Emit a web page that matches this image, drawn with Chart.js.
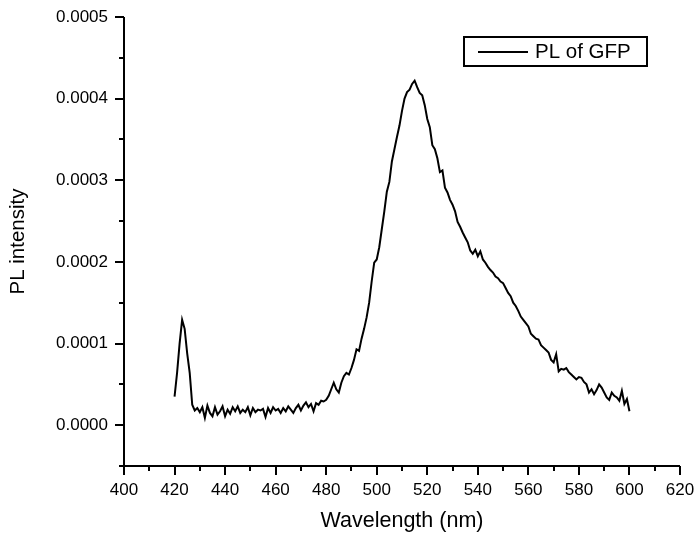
<!DOCTYPE html>
<html>
<head>
<meta charset="utf-8">
<script src="https://cdn.jsdelivr.net/npm/chart.js@4.4.1/dist/chart.umd.min.js"></script>
<style>
html,body{margin:0;padding:0;background:#fff;}
#wrap{width:698px;height:537px;position:relative;}
</style>
</head>
<body>
<div id="wrap"><canvas id="c" width="698" height="537"></canvas></div>
<script>
// ---- data ----
const seriesLabel = 'PL of GFP';
const xTitle = 'Wavelength (nm)';
const yTitle = 'PL intensity';
const START_NM = 420;   // first wavelength sample
const STEP_NM = 1;      // sampling step in nm
const UNIT = 1e-5;      // intensity values below are in units of 1e-5
const intensityE5 = [
  3.5, 6.4, 10.0, 12.9, 11.8, 8.8, 6.4, 2.5, 1.8, 2.1,        // 420-429
  1.6, 2.2, 0.9, 2.4, 1.5, 1.1, 2.2, 1.3, 1.7, 2.3,          // 430-439
  1.1, 1.9, 1.4, 2.2, 1.7, 2.3, 1.5, 1.9, 1.6, 2.2,          // 440-449
  1.2, 2.1, 1.6, 1.9, 1.8, 2.0, 1.0, 2.1, 1.5, 2.2,          // 450-459
  1.8, 2.0, 1.5, 2.1, 1.7, 2.3, 1.9, 1.5, 2.1, 2.5,          // 460-469
  1.8, 2.4, 2.8, 2.2, 2.6, 1.7, 2.7, 2.5, 3.0, 2.9,          // 470-479
  3.1, 3.6, 4.4, 5.2, 4.4, 4.0, 5.2, 6.0, 6.4, 6.2,          // 480-489
  7.0, 8.0, 9.3, 9.1, 10.6, 11.8, 13.2, 15.0, 17.6, 19.9,    // 490-499
  20.3, 21.8, 24.0, 26.2, 28.6, 29.8, 32.3, 33.8, 35.3, 36.7,// 500-509
  38.5, 40.0, 40.8, 41.1, 41.8, 42.2, 41.4, 40.7, 40.4, 39.2,// 510-519
  37.5, 36.5, 34.3, 33.8, 32.7, 31.0, 31.2, 29.1, 28.5, 27.6,// 520-529
  27.0, 26.2, 24.9, 24.3, 23.6, 23.0, 22.4, 21.4, 21.0, 21.5,// 530-539
  20.7, 21.3, 20.3, 19.9, 19.4, 19.0, 18.7, 18.2, 18.0, 17.6,// 540-549
  17.4, 16.8, 16.2, 15.8, 15.0, 14.6, 14.0, 13.3, 12.9, 12.5,// 550-559
  12.1, 11.2, 10.9, 10.6, 10.5, 9.8, 9.5, 9.2, 8.9, 8.0,     // 560-569
  7.7, 8.7, 6.6, 6.9, 6.8, 7.0, 6.5, 6.2, 5.9, 5.6,          // 570-579
  5.9, 5.8, 5.3, 5.0, 4.0, 4.4, 3.8, 4.3, 5.0, 4.6,          // 580-589
  4.0, 3.4, 3.1, 4.0, 3.6, 3.4, 3.0, 4.2, 2.6, 3.2,          // 590-599
  1.7                                                        // 600
];
const xMin = 400, xMax = 620, xMinorStep = 10, xLabelEvery = 20;
const yMin = -0.00005, yMax = 0.0005, yMinorStep = 0.00005, yLabelEvery = 0.0001;

// ---- build points ----
const points = intensityE5.map((v, i) => ({ x: START_NM + i * STEP_NM, y: v * UNIT }));

const FONT = 'Arial, "Liberation Sans", sans-serif';

const axesPlugin = {
  id: 'originAxes',
  afterDraw(chart) {
    const ctx = chart.ctx;
    const xs = chart.scales.x, ys = chart.scales.y;
    const ca = chart.chartArea;
    ctx.save();
    ctx.strokeStyle = '#000';
    ctx.lineWidth = 2;
    ctx.lineCap = 'butt';
    // axis lines
    ctx.beginPath();
    ctx.moveTo(ca.left, ca.top);
    ctx.lineTo(ca.left, ca.bottom);
    ctx.moveTo(ca.left - 5, ca.bottom);
    ctx.lineTo(ca.right, ca.bottom);
    ctx.stroke();
    // x ticks
    ctx.beginPath();
    xs.ticks.forEach(t => {
      const px = Math.round(xs.getPixelForValue(t.value));
      const major = Math.abs(t.value / xLabelEvery - Math.round(t.value / xLabelEvery)) < 1e-6;
      ctx.moveTo(px, ca.bottom);
      ctx.lineTo(px, ca.bottom + (major ? 9 : 5));
    });
    // y ticks
    ys.ticks.forEach(t => {
      const py = Math.round(ys.getPixelForValue(t.value));
      const r = t.value / yLabelEvery;
      const major = Math.abs(r - Math.round(r)) < 1e-6;
      ctx.moveTo(ca.left, py);
      ctx.lineTo(ca.left - (major ? 9 : 5), py);
    });
    ctx.stroke();

    // legend box
    const lx = 464, ly = 37, lw = 183, lh = 29;
    ctx.lineWidth = 2;
    ctx.strokeRect(lx, ly, lw, lh);
    ctx.lineWidth = 1.8;
    ctx.beginPath();
    ctx.moveTo(478, 52);
    ctx.lineTo(528, 52);
    ctx.stroke();
    ctx.fillStyle = '#000';
    ctx.font = '20.5px ' + FONT;
    ctx.textBaseline = 'middle';
    ctx.textAlign = 'left';
    ctx.fillText(chart.data.datasets[0].label, 535, 52);
    ctx.restore();
  }
};

new Chart(document.getElementById('c'), {
  type: 'line',
  data: {
    datasets: [{
      label: seriesLabel,
      data: points,
      borderColor: '#000',
      borderWidth: 2,
      pointRadius: 0,
      tension: 0,
      fill: false
    }]
  },
  options: {
    responsive: false,
    animation: false,
    devicePixelRatio: 1,
    layout: { padding: { left: 0, right: 18, top: 17, bottom: 0 } },
    plugins: { legend: { display: false }, tooltip: { enabled: false } },
    scales: {
      x: {
        type: 'linear',
        min: xMin, max: xMax,
        grid: { display: false, drawTicks: true, tickLength: 14 },
        border: { display: false },
        ticks: {
          stepSize: xMinorStep,
          autoSkip: false,
          maxRotation: 0,
          padding: 0,
          color: '#000',
          font: { family: FONT, size: 17 },
          callback: v => (Math.abs(v / xLabelEvery - Math.round(v / xLabelEvery)) < 1e-6 ? String(v) : '')
        },
        title: { display: true, text: xTitle, color: '#000', font: { family: FONT, size: 21.5 }, padding: { top: 0, bottom: 3 } },
        afterFit: s => { s.height = 71; }
      },
      y: {
        type: 'linear',
        min: yMin, max: yMax,
        grid: { display: false, drawTicks: true, tickLength: 16 },
        border: { display: false },
        ticks: {
          stepSize: yMinorStep,
          autoSkip: false,
          padding: 0,
          color: '#000',
          font: { family: FONT, size: 17 },
          callback: v => {
            const r = v / yLabelEvery;
            return Math.abs(r - Math.round(r)) < 1e-6 ? (Math.round(r) * yLabelEvery).toFixed(4) : '';
          }
        },
        title: { display: true, text: yTitle, color: '#000', font: { family: FONT, size: 20.5 }, padding: { top: 6, bottom: 0 } },
        afterFit: s => { s.width = 124; }
      }
    }
  },
  plugins: [axesPlugin]
});
</script>
</body>
</html>
